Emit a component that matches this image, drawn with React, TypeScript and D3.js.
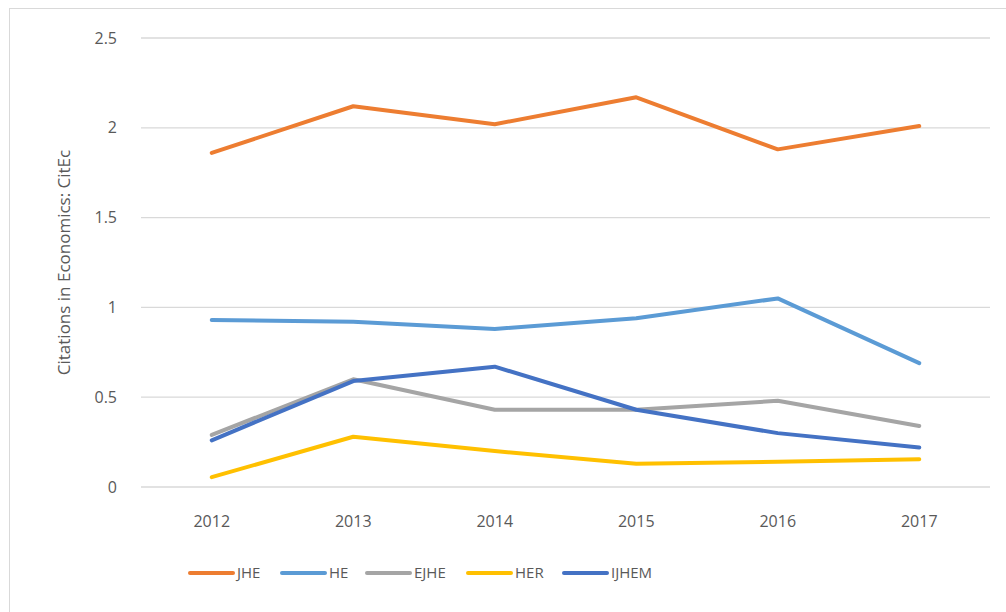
import React from "react";
import * as d3 from "d3";

const years = ["2012", "2013", "2014", "2015", "2016", "2017"];
const seriesNames = ["JHE", "HE", "EJHE", "HER", "IJHEM"];
const seriesColors = ["#ED7D31", "#5B9BD5", "#A5A5A5", "#FFC000", "#4472C4"];
const jhe = [1.86, 2.12, 2.02, 2.17, 1.88, 2.01];
const he = [0.93, 0.92, 0.88, 0.94, 1.05, 0.69];
const ejhe = [0.29, 0.6, 0.43, 0.43, 0.48, 0.34];
const her = [0.055, 0.28, 0.2, 0.13, 0.14, 0.155];
const ijhem = [0.26, 0.59, 0.67, 0.43, 0.3, 0.22];
const yTicks = [0, 0.5, 1, 1.5, 2, 2.5];

const allSeries = [jhe, he, ejhe, her, ijhem];

export default function App() {
  const W = 1006, H = 612;
  const x = d3.scaleBand<string>().domain(years).range([141, 990]);
  const y = d3.scaleLinear().domain([0, 2.5]).range([487, 38]);
  const line = d3
    .line<number>()
    .x((_, i) => (x(years[i]) as number) + x.bandwidth() / 2)
    .y((d) => y(d));
  const font = "'Open Sans', 'Noto Sans', sans-serif";
  const legendX = [190, 282, 367, 468, 564];

  return (
    <svg
      width={W}
      height={H}
      style={{ position: "absolute", left: 0, top: 0, background: "#fff" }}
      fontFamily={font}
    >
      <rect x={9.5} y={8.5} width={1100} height={700} fill="#fff" stroke="#d9d9d9" strokeWidth={1} />
      {yTicks.map((t) => (
        <g key={t}>
          <line x1={141} x2={990} y1={y(t)} y2={y(t)} stroke="#d9d9d9" strokeWidth={1.3} />
          <text x={117} y={y(t)} dy="0.35em" textAnchor="end" fontSize={16} fill="#595959">
            {String(t)}
          </text>
        </g>
      ))}
      {years.map((yr) => (
        <text
          key={yr}
          x={(x(yr) as number) + x.bandwidth() / 2}
          y={527}
          textAnchor="middle"
          fontSize={16}
          fill="#595959"
        >
          {yr}
        </text>
      ))}
      <text
        transform={`translate(70, ${(y(0) + y(2.5)) / 2}) rotate(-90)`}
        textAnchor="middle"
        fontSize={17}
        fill="#595959"
      >
        Citations in Economics: CitEc
      </text>
      {allSeries.map((s, i) => (
        <path
          key={seriesNames[i]}
          d={line(s) || ""}
          fill="none"
          stroke={seriesColors[i]}
          strokeWidth={4}
          strokeLinecap="round"
          strokeLinejoin="round"
        />
      ))}
      {seriesNames.map((n, i) => (
        <g key={n}>
          <line
            x1={legendX[i]}
            x2={legendX[i] + 43}
            y1={573}
            y2={573}
            stroke={seriesColors[i]}
            strokeWidth={4}
            strokeLinecap="round"
          />
          <text x={legendX[i] + 47} y={573} dy="0.35em" fontSize={15} fill="#595959">
            {n}
          </text>
        </g>
      ))}
    </svg>
  );
}
